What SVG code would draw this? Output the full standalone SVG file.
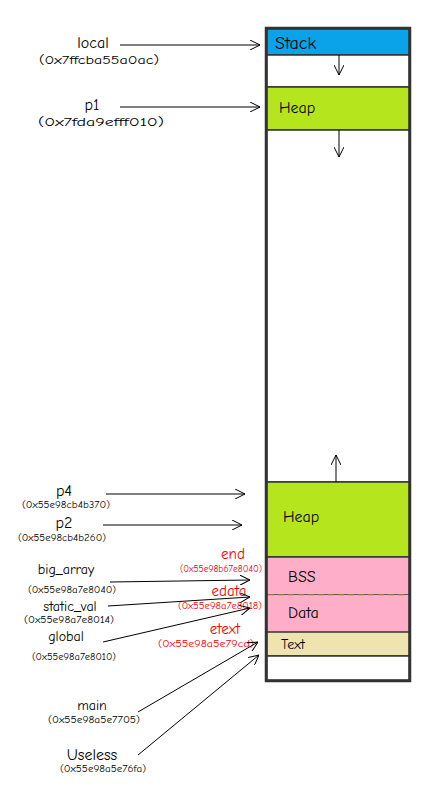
<svg xmlns="http://www.w3.org/2000/svg" width="428" height="788" viewBox="0 0 428 788">
<style>
.seg{stroke:#333;stroke-width:1.5}
.lbl{font-family:"Comic Neue","Liberation Sans","DejaVu Sans",sans-serif;fill:#000}
.big{font-size:16px}
.mid{font-size:14px}
.addr{font-size:12px}
.sm{font-size:10px}
.red{fill:#e00}
.con{stroke:#000;stroke-width:1;fill:none;marker-end:url(#ah)}
</style>
<defs>
<marker id="ah" viewBox="0 0 10 10" refX="10" refY="5" markerWidth="10" markerHeight="10" markerUnits="userSpaceOnUse" orient="auto">
<path d="M0,0 L10,5 L0,10" fill="none" stroke="#000" stroke-width="1"/>
</marker>
</defs>
<rect width="428" height="788" fill="#fff"/>
<g id="memory">
<g id="stack"><rect class="seg" x="267" y="29" width="142" height="26" fill="#0aa2e8"/><text class="lbl" font-size="18" x="275" y="49">Stack</text></g>
<g id="gap1"><rect class="seg" x="267" y="55" width="142" height="32" fill="#fff"/></g>
<g id="heap-top"><rect class="seg" x="267" y="87" width="142" height="43" fill="#b5e61d"/><text class="lbl big" x="279" y="113">Heap</text></g>
<g id="gap2"><rect class="seg" x="267" y="130" width="142" height="352" fill="#fff"/></g>
<g id="heap"><rect class="seg" x="267" y="482" width="142" height="75" fill="#b5e61d"/><text class="lbl big" x="283" y="522">Heap</text></g>
<g id="bss"><rect class="seg" x="267" y="557" width="142" height="38" fill="#ffaec9"/><text class="lbl big" x="288" y="582">BSS</text></g>
<g id="data"><rect x="267" y="595" width="142" height="37" fill="#ffaec9" stroke="none"/><line x1="267" y1="595" x2="267" y2="632" class="seg"/><line x1="409" y1="595" x2="409" y2="632" class="seg"/><text class="lbl big" x="288" y="618">Data</text></g>
<line x1="268" y1="595" x2="408" y2="595" stroke="#f08a30" stroke-width="1.2" stroke-dasharray="6,4"/>
<g id="textseg"><rect class="seg" x="267" y="632" width="142" height="24" fill="#efe4b0"/><text class="lbl mid" x="281" y="649">Text</text></g>
<g id="gap3"><rect class="seg" x="267" y="656" width="142" height="24" fill="#fff"/></g>
<rect x="266" y="28" width="144" height="653" fill="none" stroke="#333" stroke-width="2.5"/>
</g>
<g id="labels">
<g id="local"><text class="lbl big" x="93" y="48" text-anchor="middle">local</text><text class="lbl addr" x="39" y="64" textLength="120" lengthAdjust="spacingAndGlyphs">(0x7ffcba55a0ac)</text></g>
<g id="p1"><text class="lbl big" x="92" y="110" text-anchor="middle">p1</text><text class="lbl addr" x="38" y="126" textLength="126" lengthAdjust="spacingAndGlyphs">(0x7fda9efff010)</text></g>
<g id="p4"><text class="lbl big" x="64" y="496" text-anchor="middle">p4</text><text class="lbl sm" x="22" y="508" textLength="88" lengthAdjust="spacingAndGlyphs">(0x55e98cb4b370)</text></g>
<g id="p2"><text class="lbl big" x="64" y="528" text-anchor="middle">p2</text><text class="lbl sm" x="18" y="541" textLength="88" lengthAdjust="spacingAndGlyphs">(0x55e98cb4b260)</text></g>
<g id="big_array"><text class="lbl mid" x="66" y="574" text-anchor="middle">big_array</text><text class="lbl sm" x="28" y="593" textLength="88" lengthAdjust="spacingAndGlyphs">(0x55e98a7e8040)</text></g>
<g id="static_val"><text class="lbl mid" x="70" y="611" text-anchor="middle">static_val</text><text class="lbl sm" x="24" y="623" textLength="90" lengthAdjust="spacingAndGlyphs">(0x55e98a7e8014)</text></g>
<g id="global"><text class="lbl mid" x="66" y="641" text-anchor="middle">global</text><text class="lbl sm" x="32" y="660" textLength="84" lengthAdjust="spacingAndGlyphs">(0x55e98a7e8010)</text></g>
<g id="main"><text class="lbl mid" x="92" y="710" text-anchor="middle">main</text><text class="lbl sm" x="48" y="723" textLength="92" lengthAdjust="spacingAndGlyphs">(0x55e98a5e7705)</text></g>
<g id="useless"><text class="lbl big" x="92" y="760" text-anchor="middle">Useless</text><text class="lbl sm" x="60" y="772" textLength="86" lengthAdjust="spacingAndGlyphs">(0x55e98a5e76fa)</text></g>
<g id="end"><text class="lbl red" font-size="15" x="233" y="559" text-anchor="middle">end</text><text class="lbl sm red" x="180" y="572" textLength="82" lengthAdjust="spacingAndGlyphs">(0x55e98b67e8040)</text></g>
<g id="edata"><text class="lbl red" font-size="15" x="229" y="596" text-anchor="middle">edata</text><text class="lbl sm red" x="178" y="609" textLength="84" lengthAdjust="spacingAndGlyphs">(0x55e98a7e8018)</text></g>
<g id="etext"><text class="lbl red" font-size="15" x="225" y="634" text-anchor="middle">etext</text><text class="lbl sm red" x="158" y="647" textLength="96" lengthAdjust="spacingAndGlyphs">(0x55e98a5e79cd)</text></g>
</g>
<g id="connectors">
<line class="con" x1="120" y1="45" x2="260" y2="45"/>
<line class="con" x1="120" y1="107" x2="260" y2="107"/>
<line class="con" x1="106" y1="494" x2="245" y2="494"/>
<line class="con" x1="103" y1="525" x2="242" y2="525"/>
<line class="con" x1="110" y1="582" x2="250" y2="580"/>
<line class="con" x1="108" y1="606" x2="250" y2="597"/>
<line class="con" x1="103" y1="642" x2="250" y2="608"/>
<line class="con" x1="138" y1="712" x2="258" y2="642"/>
<line class="con" x1="138" y1="755" x2="259" y2="655"/>
<line class="con" x1="339" y1="55" x2="339" y2="75"/>
<line class="con" x1="339" y1="130" x2="339" y2="157"/>
<line class="con" x1="336" y1="482" x2="336" y2="455"/>
</g>
</svg>
